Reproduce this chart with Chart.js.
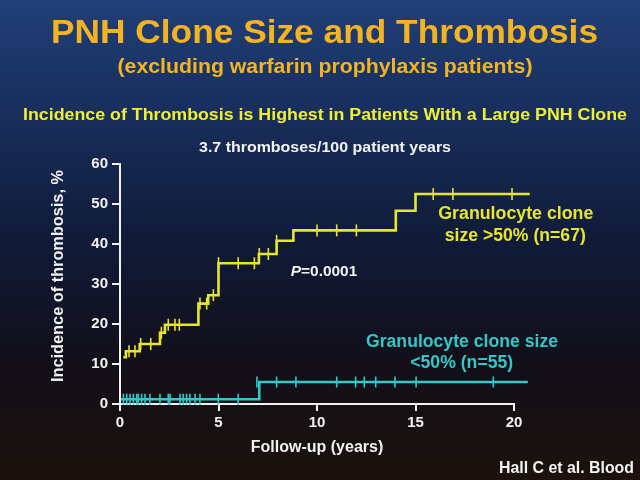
<!DOCTYPE html>
<html>
<head>
<meta charset="utf-8">
<script src="https://cdn.jsdelivr.net/npm/chart.js@4"></script>
<style>
  html, body { margin: 0; padding: 0; width: 640px; height: 480px; overflow: hidden; }
  body { background: linear-gradient(to bottom, #203f78 0%, #182d5a 25%, #101b38 50%, #120f1a 75%, #1c120b 100%); }
  canvas { display: block; }
</style>
</head>
<body>
<canvas id="c" width="640" height="480"></canvas>
<script>
// ---- Data ----
// Large clone (>50%) Kaplan-Meier steps: time (years) at which the level starts, cumulative incidence (%)
const highTimes = [0.17, 0.3, 1.0, 2.03, 2.28, 3.98, 4.48, 5.0, 7.05, 7.95, 8.8, 14.0, 15.0, 20.8];
const highPct   = [11.7, 13.2, 15.0, 17.8, 19.8, 25.1, 27.2, 35.2, 37.5, 40.8, 43.4, 48.3, 52.5, 52.5];
// Small clone (<50%)
const lowTimes = [0.05, 7.07, 20.7];
const lowPct   = [1.2, 5.5, 5.5];
// Censor marks
const highCensorTimes = [0.46, 0.76, 1.05, 1.56, 2.1, 2.45, 2.79, 3.01, 4.06, 4.4, 4.74, 5.0, 6.0, 6.82, 7.07, 7.53, 7.95, 10.0, 11.0, 12.0, 15.9, 16.9, 19.9];
const highCensorPct   = [13.2, 13.2, 15.0, 15.0, 17.8, 19.8, 19.8, 19.8, 25.1, 25.1, 27.2, 35.2, 35.2, 35.2, 37.5, 37.5, 40.8, 43.4, 43.4, 43.4, 52.5, 52.5, 52.5];
const lowCensorTimes = [0.17, 0.34, 0.51, 0.68, 0.85, 0.93, 1.1, 1.27, 1.52, 2.03, 2.45, 2.54, 3.05, 3.21, 3.38, 3.55, 3.81, 4.06, 4.99, 6.0, 6.95, 7.95, 8.93, 11.0, 11.96, 12.4, 12.98, 13.96, 15.03, 18.95];
const lowCensorPct   = [1.2, 1.2, 1.2, 1.2, 1.2, 1.2, 1.2, 1.2, 1.2, 1.2, 1.2, 1.2, 1.2, 1.2, 1.2, 1.2, 1.2, 1.2, 1.2, 1.2, 5.5, 5.5, 5.5, 5.5, 5.5, 5.5, 5.5, 5.5, 5.5, 5.5];
// Axis ticks
const xTicks = [0, 5, 10, 15, 20];
const yTicks = [0, 10, 20, 30, 40, 50, 60];

const YEL = '#e6e62c';
const CYAN = '#33c8c8';
const WHITE = '#f2f2f2';
const FONT = '"Liberation Sans", Arial, sans-serif';

const toPts = (xs, ys) => xs.map((x, i) => ({x: x, y: ys[i]}));

function txt(ctx, str, cx, cy, size, width, color, align, rot) {
  ctx.save();
  ctx.font = 'bold ' + size + 'px ' + FONT;
  const m = ctx.measureText(str).width;
  const sx = width ? width / m : 1;
  ctx.translate(cx, cy);
  if (rot) ctx.rotate(rot);
  ctx.translate(0, 0.36 * size);
  ctx.scale(sx, 1);
  ctx.textAlign = align || 'center';
  ctx.textBaseline = 'alphabetic';
  ctx.fillStyle = color;
  ctx.fillText(str, 0, 0);
  ctx.restore();
}

const textPlugin = {
  id: 'texts',
  afterDraw(chart) {
    const ctx = chart.ctx;
    txt(ctx, 'PNH Clone Size and Thrombosis', 324.5, 31.7, 32.5, 547, '#f4b422');
    txt(ctx, '(excluding warfarin prophylaxis patients)', 325, 66, 20, 415, '#f4b422');
    txt(ctx, 'Incidence of Thrombosis is Highest in Patients With a Large PNH Clone', 325, 114, 16.8, 604, '#f0f032');
    txt(ctx, '3.7 thromboses/100 patient years', 325, 146, 15.5, 252, WHITE);
    txt(ctx, 'Incidence of thrombosis, %', 57, 276, 16.5, 212, WHITE, 'center', -Math.PI / 2);
    txt(ctx, 'Granulocyte clone', 515.8, 213, 18, 155, YEL);
    txt(ctx, 'size >50% (n=67)', 515.3, 235, 18, 141, YEL);
    txt(ctx, 'Granulocyte clone size', 462, 341, 17.5, 192, CYAN);
    txt(ctx, '<50% (n=55)', 461.7, 362, 17.5, 103, CYAN);
    txt(ctx, 'Hall C et al. Blood', 634, 467, 16.5, 135, WHITE, 'right');
    // P=0.0001 with italic P
    ctx.save();
    ctx.fillStyle = WHITE;
    ctx.textBaseline = 'alphabetic';
    ctx.textAlign = 'left';
    const size = 15.5;
    ctx.font = 'italic bold ' + size + 'px ' + FONT;
    const wP = ctx.measureText('P').width;
    ctx.font = 'bold ' + size + 'px ' + FONT;
    const wR = ctx.measureText('=0.0001').width;
    const sx = 66.6 / (wP + wR);
    ctx.translate(290.7, 270 + 0.36 * size);
    ctx.scale(sx, 1);
    ctx.font = 'italic bold ' + size + 'px ' + FONT;
    ctx.fillText('P', 0, 0);
    ctx.font = 'bold ' + size + 'px ' + FONT;
    ctx.fillText('=0.0001', wP, 0);
    ctx.restore();
  }
};

new Chart(document.getElementById('c'), {
  type: 'scatter',
  data: {
    datasets: [
      { data: toPts(highTimes, highPct), showLine: true, stepped: 'before', borderColor: YEL, borderWidth: 2.6, pointRadius: 0, fill: false, clip: false },
      { data: toPts(lowTimes, lowPct), showLine: true, stepped: 'before', borderColor: CYAN, borderWidth: 2.6, pointRadius: 0, fill: false, clip: false },
      { data: toPts(highCensorTimes, highCensorPct), showLine: false, pointStyle: 'line', rotation: 90, pointRadius: 6, borderColor: YEL, backgroundColor: YEL, borderWidth: 1.6, clip: false },
      { data: toPts(lowCensorTimes, lowCensorPct), showLine: false, pointStyle: 'line', rotation: 90, pointRadius: 5.5, borderColor: CYAN, backgroundColor: CYAN, borderWidth: 1.6, clip: false }
    ]
  },
  options: {
    responsive: false,
    animation: false,
    devicePixelRatio: 1,
    events: [],
    layout: { padding: { left: 40, right: 126, top: 164, bottom: 20 } },
    plugins: { legend: { display: false }, tooltip: { enabled: false }, title: { display: false } },
    scales: {
      x: {
        type: 'linear', min: 0, max: 20,
        afterBuildTicks(s) { s.ticks = xTicks.map(v => ({value: v})); },
        ticks: { color: WHITE, font: { family: FONT, size: 15, weight: 'bold' }, padding: 3 },
        grid: { drawOnChartArea: false, drawTicks: true, tickLength: 7, color: WHITE, lineWidth: 2 },
        border: { display: true, color: WHITE, width: 2 },
        title: { display: true, text: 'Follow-up (years)', color: WHITE, font: { family: FONT, size: 16, weight: 'bold' }, padding: { top: 2, bottom: 3 } },
        afterFit(s) { s.height = 56; }
      },
      y: {
        type: 'linear', min: 0, max: 60,
        afterBuildTicks(s) { s.ticks = yTicks.map(v => ({value: v})); },
        ticks: { color: WHITE, font: { family: FONT, size: 15, weight: 'bold' }, padding: 4 },
        grid: { drawOnChartArea: false, drawTicks: true, tickLength: 8, color: WHITE, lineWidth: 2 },
        border: { display: true, color: WHITE, width: 2 },
        title: { display: false },
        afterFit(s) { s.width = 80; }
      }
    }
  },
  plugins: [textPlugin]
});
</script>
</body>
</html>
